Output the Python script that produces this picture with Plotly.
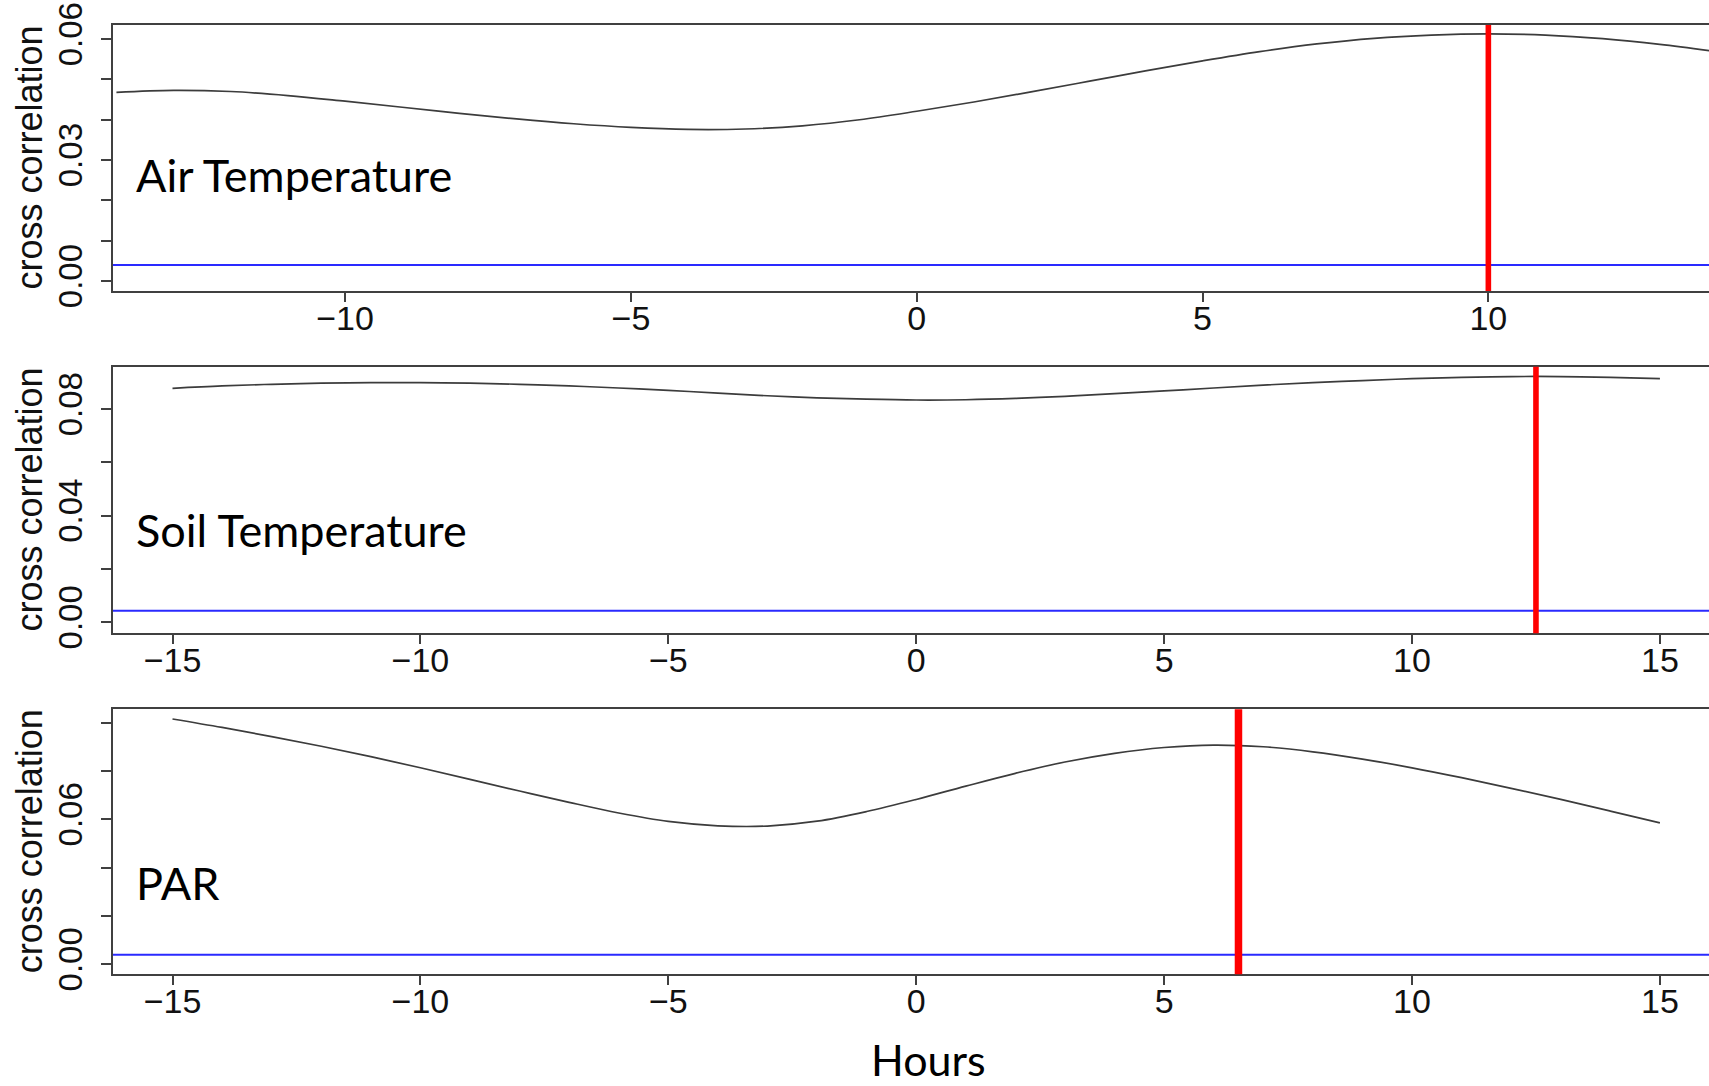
import plotly.graph_objects as go

# Lag axis (hours) and cross-correlation estimates for each driver
air_lags = list(range(-14, 15))
air_ccf = [0.0468, 0.0473, 0.0470, 0.0460, 0.0446, 0.0431, 0.0416, 0.0402, 0.0390,
           0.0381, 0.0376, 0.0377, 0.0385, 0.0400, 0.0421, 0.0444, 0.0469, 0.0495,
           0.0521, 0.0546, 0.0569, 0.0588, 0.0602, 0.0610, 0.0613, 0.0610, 0.0601,
           0.0587, 0.0569]

soil_lags = list(range(-15, 16))
soil_ccf = [0.0878, 0.0887, 0.0893, 0.0897, 0.0899, 0.0899, 0.0897, 0.0893, 0.0887,
            0.0879, 0.0870, 0.0860, 0.0850, 0.0842, 0.0837, 0.0834, 0.0835, 0.0840,
            0.0848, 0.0858, 0.0868, 0.0879, 0.0890, 0.0899, 0.0907, 0.0914, 0.0919,
            0.0922, 0.0922, 0.0919, 0.0914]

par_lags = list(range(-15, 16))
par_ccf = [0.1015, 0.0980, 0.0942, 0.0902, 0.0859, 0.0813, 0.0765, 0.0717, 0.0670,
           0.0626, 0.0591, 0.0573, 0.0572, 0.0592, 0.0632, 0.0682, 0.0737, 0.0790,
           0.0837, 0.0873, 0.0897, 0.0907, 0.0900, 0.0879, 0.0849, 0.0813, 0.0772,
           0.0728, 0.0682, 0.0634, 0.0585]

panel_names = ["Air Temperature", "Soil Temperature", "PAR"]
peak_lag = [10, 12.5, 6.5]
signif_level = [0.004, 0.0043, 0.0039]

# y-axis ticks: every tick drawn, only some labelled
y_tickvals = [[0.00, 0.01, 0.02, 0.03, 0.04, 0.05, 0.06],
              [0.00, 0.02, 0.04, 0.06, 0.08],
              [0.00, 0.02, 0.04, 0.06, 0.08, 0.10]]
y_ticktext = [["0.00", "", "", "0.03", "", "", "0.06"],
              ["0.00", "", "0.04", "", "0.08"],
              ["0.00", "", "", "0.06", "", ""]]
x_tickvals = [[-10, -5, 0, 5, 10],
              [-15, -10, -5, 0, 5, 10, 15],
              [-15, -10, -5, 0, 5, 10, 15]]
x_ticktext = [["\u221210", "\u22125", "0", "5", "10"],
              ["\u221215", "\u221210", "\u22125", "0", "5", "10", "15"],
              ["\u221215", "\u221210", "\u22125", "0", "5", "10", "15"]]

W, H = 1709, 1086
x_ranges = [[-14.06, 13.86], [-16.2, 15.99], [-16.2, 15.99]]
y_ranges = [[-0.00248, 0.0635], [-0.00413, 0.0959], [-0.00414, 0.1055]]
# panel boxes in pixels (top, bottom)
boxes = [(25, 291), (366.7, 633.3), (709.3, 974.3)]
left_px = 113
red_widths = [5.6, 5.6, 7.5]
label_cap_center = [175.4, 530, 882.6]

axis_col = "#404040"
x_tick_font = dict(family="Liberation Sans, Arial, sans-serif", size=34, color="#111111")
y_tick_font = dict(family="Liberation Sans, Arial, sans-serif", size=33, color="#111111")
text_font = dict(family="Lato, sans-serif", size=45, color="#000000")

fig = go.Figure()
series = [(air_lags, air_ccf), (soil_lags, soil_ccf), (par_lags, par_ccf)]
layout = dict(width=W, height=H, margin=dict(l=0, r=0, t=0, b=0, autoexpand=False),
              plot_bgcolor="white", paper_bgcolor="white", showlegend=False)
shapes = []
annotations = []

for i, (lags, vals) in enumerate(series):
    n = "" if i == 0 else str(i + 1)
    fig.add_trace(go.Scatter(x=lags, y=vals, mode="lines",
                             line=dict(color="#3c3c3c", width=1.7, shape="spline",
                                       smoothing=1.0),
                             xaxis="x" + n, yaxis="y" + n, hoverinfo="skip"))
    top, bot = boxes[i]
    layout["xaxis" + n] = dict(
        domain=[left_px / W, 1.0], range=x_ranges[i], anchor="y" + n,
        automargin=False, showgrid=False, zeroline=False, showline=True,
        linecolor=axis_col, linewidth=2, mirror=True, ticks="outside",
        ticklen=9, tickwidth=1.8, tickcolor=axis_col,
        tickvals=x_tickvals[i], ticktext=x_ticktext[i],
        tickfont=x_tick_font, ticklabelstandoff=-13)
    layout["yaxis" + n] = dict(
        domain=[1 - bot / H, 1 - top / H], range=y_ranges[i], anchor="x" + n,
        automargin=False, showgrid=False, zeroline=False, showline=True,
        linecolor=axis_col, linewidth=2, ticks="outside", ticklen=10,
        tickwidth=1.8, tickcolor=axis_col, tickvals=y_tickvals[i],
        ticktext=y_ticktext[i], tickfont=y_tick_font, tickangle=-90,
        ticklabelstandoff=6)
    # significance line
    shapes.append(dict(type="line", xref="x" + n + " domain", x0=0, x1=1,
                       yref="y" + n, y0=signif_level[i], y1=signif_level[i],
                       line=dict(color="#2a2aff", width=2)))
    # lag of maximum correlation
    shapes.append(dict(type="line", xref="x" + n, x0=peak_lag[i], x1=peak_lag[i],
                       yref="y" + n + " domain", y0=0, y1=1,
                       line=dict(color="#ff0000", width=red_widths[i])))
    annotations.append(dict(text="cross correlation", xref="paper", yref="paper",
                            x=29.5 / W, y=1 - (top + bot) / 2 / H, textangle=-90,
                            xanchor="center", yanchor="middle", showarrow=False,
                            font=dict(family="Liberation Sans, Arial, sans-serif",
                                      size=36, color="#111111")))
    annotations.append(dict(text=panel_names[i], xref="paper", yref="paper",
                            x=134 / W, y=1 - label_cap_center[i] / H,
                            xanchor="left", yanchor="middle", showarrow=False,
                            font=text_font))

annotations.append(dict(text="Hours", xref="paper", yref="paper",
                        x=928 / W, y=1 - 1059 / H, xanchor="center",
                        yanchor="middle", showarrow=False,
                        font=dict(family="Lato, sans-serif", size=43, color="#000000")))

layout["shapes"] = shapes
layout["annotations"] = annotations
fig.update_layout(**layout)
fig.write_html("out.html")
